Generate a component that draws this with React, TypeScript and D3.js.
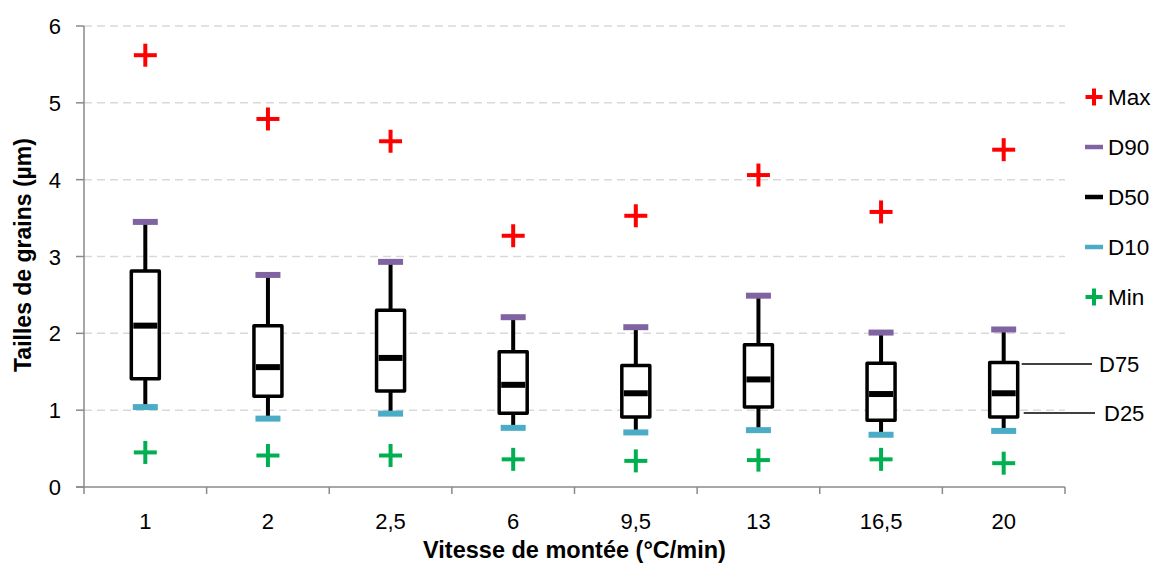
import React from "react";
import * as d3 from "d3";

const categories = ["1", "2", "2,5", "6", "9,5", "13", "16,5", "20"];
const maxV = [5.62, 4.79, 4.5, 3.27, 3.53, 4.06, 3.58, 4.39];
const d90 = [3.45, 2.76, 2.93, 2.21, 2.08, 2.49, 2.01, 2.05];
const d75 = [2.81, 2.1, 2.3, 1.76, 1.58, 1.85, 1.61, 1.62];
const d50 = [2.1, 1.56, 1.68, 1.33, 1.22, 1.4, 1.21, 1.22];
const d25 = [1.41, 1.18, 1.25, 0.96, 0.91, 1.04, 0.87, 0.91];
const d10 = [1.04, 0.89, 0.955, 0.77, 0.71, 0.74, 0.68, 0.73];
const minV = [0.45, 0.41, 0.41, 0.36, 0.34, 0.35, 0.36, 0.31];
const yTicks = [0, 1, 2, 3, 4, 5, 6];
const legendItems = ["Max", "D90", "D50", "D10", "Min"];

const RED = "#FF0000";
const GREEN = "#00B050";
const PURPLE = "#8064A2";
const TEAL = "#4BACC6";
const AXIS = "#8A8A8A";
const GRID = "#D9D9D9";
const FONT = "'Liberation Sans', Arial, sans-serif";

const W = 1163;
const H = 564;
const X0 = 84;
const X1 = 1065;
const Y0 = 487;
const Y1 = 26;

function Plus({ cx, cy, size, color, sw }: { cx: number; cy: number; size: number; color: string; sw: number }) {
  const h = size / 2;
  return (
    <g stroke={color} strokeWidth={sw}>
      <line x1={cx - h} x2={cx + h} y1={cy} y2={cy} />
      <line x1={cx} x2={cx} y1={cy - h} y2={cy + h} />
    </g>
  );
}

export default function App() {
  const x = d3.scaleBand<string>().domain(categories).range([X0, X1]).padding(0);
  const y = d3.scaleLinear().domain([0, 6]).range([Y0, Y1]);
  const bw = x.bandwidth();
  const boxW = 28;
  const capW = 24;
  const last = categories.length - 1;
  const lastCx = (x(categories[last]) as number) + bw / 2;

  return (
    <svg width={W} height={H} style={{ position: "absolute", left: 0, top: 0, background: "#fff" }} fontFamily={FONT}>
      {/* gridlines */}
      {yTicks.filter((t) => t > 0).map((t) => (
        <line key={"g" + t} x1={X0} x2={X1} y1={y(t)} y2={y(t)} stroke={GRID} strokeWidth={1.5} strokeDasharray="8 5" />
      ))}
      {/* axes */}
      <line x1={X0} x2={X0} y1={Y1} y2={Y0} stroke={AXIS} strokeWidth={1.5} />
      <line x1={X0 - 8} x2={X1} y1={Y0} y2={Y0} stroke={AXIS} strokeWidth={1.5} />
      {yTicks.map((t) => (
        <g key={"yt" + t}>
          <line x1={X0 - 8} x2={X0} y1={y(t)} y2={y(t)} stroke={AXIS} strokeWidth={1.5} />
          <text x={61} y={y(t) + 8} textAnchor="end" fontSize={22} fill="#000">{t}</text>
        </g>
      ))}
      {categories.map((c, i) => (
        <line key={"xt" + i} x1={x(c) as number} x2={x(c) as number} y1={Y0} y2={Y0 + 7} stroke={AXIS} strokeWidth={1.5} />
      ))}
      <line x1={X1} x2={X1} y1={Y0} y2={Y0 + 7} stroke={AXIS} strokeWidth={1.5} />
      {categories.map((c, i) => (
        <text key={"xl" + i} x={(x(c) as number) + bw / 2} y={529} textAnchor="middle" fontSize={22} fill="#000">{c}</text>
      ))}
      {/* axis titles */}
      <text x={(X0 + X1) / 2} y={558} textAnchor="middle" fontSize={23.5} fontWeight="bold" fill="#000">Vitesse de montée (°C/min)</text>
      <text transform={`translate(31,255) rotate(-90)`} textAnchor="middle" fontSize={23} fontWeight="bold" fill="#000">Tailles de grains (µm)</text>

      {/* boxes */}
      {categories.map((c, i) => {
        const cx = (x(c) as number) + bw / 2;
        return (
          <g key={"b" + i}>
            <line x1={cx} x2={cx} y1={y(d90[i])} y2={y(d75[i])} stroke="#000" strokeWidth={4} />
            <line x1={cx} x2={cx} y1={y(d25[i])} y2={y(d10[i])} stroke="#000" strokeWidth={4} />
            <rect x={cx - boxW / 2} y={y(d75[i])} width={boxW} height={y(d25[i]) - y(d75[i])} fill="#fff" stroke="#000" strokeWidth={3.5} strokeLinejoin="round" />
            <line x1={cx - capW / 2} x2={cx + capW / 2} y1={y(d50[i])} y2={y(d50[i])} stroke="#000" strokeWidth={6} />
            <line x1={cx - capW / 2 - 0.5} x2={cx + capW / 2 + 0.5} y1={y(d90[i])} y2={y(d90[i])} stroke={PURPLE} strokeWidth={6} />
            <line x1={cx - capW / 2 - 0.5} x2={cx + capW / 2 + 0.5} y1={y(d10[i])} y2={y(d10[i])} stroke={TEAL} strokeWidth={6} />
            <Plus cx={cx} cy={y(maxV[i])} size={23} color={RED} sw={4} />
            <Plus cx={cx} cy={y(minV[i])} size={23} color={GREEN} sw={4} />
          </g>
        );
      })}

      {/* D75 / D25 annotations */}
      <line x1={lastCx + boxW / 2 + 4} x2={1092} y1={y(d75[last]) + 1.5} y2={y(d75[last]) + 1.5} stroke="#000" strokeWidth={1.5} />
      <text x={1099} y={y(d75[last]) + 9} fontSize={22} fill="#000">D75</text>
      <line x1={lastCx + boxW / 2 + 6} x2={1095} y1={y(d25[last]) - 4} y2={y(d25[last]) - 4} stroke="#000" strokeWidth={1.5} />
      <text x={1104} y={y(d25[last]) + 4} fontSize={22} fill="#000">D25</text>

      {/* legend */}
      {legendItems.map((name, i) => {
        const cy = 97 + i * 50;
        const mx = 1094;
        let marker;
        if (name === "Max") marker = <Plus cx={mx} cy={cy} size={17} color={RED} sw={4} />;
        else if (name === "Min") marker = <Plus cx={mx} cy={cy} size={17} color={GREEN} sw={4} />;
        else {
          const col = name === "D90" ? PURPLE : name === "D50" ? "#000" : TEAL;
          marker = <line x1={mx - 9} x2={mx + 9} y1={cy} y2={cy} stroke={col} strokeWidth={4.5} />;
        }
        return (
          <g key={"lg" + name}>
            {marker}
            <text x={1108} y={cy + 8} fontSize={22.5} fill="#000">{name}</text>
          </g>
        );
      })}
    </svg>
  );
}
